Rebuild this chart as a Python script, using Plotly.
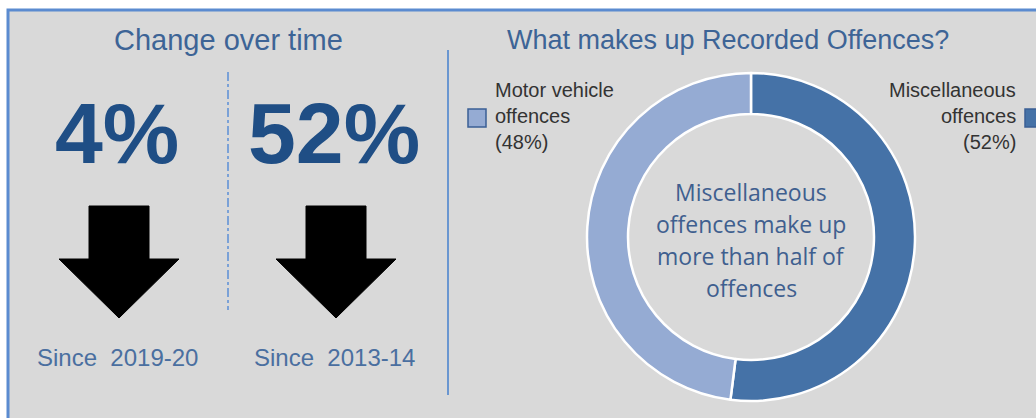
import plotly.graph_objects as go

# Headline change figures
periods = ["Since  2019-20", "Since  2013-14"]
change_pct = [4, 52]

# Composition of recorded offences
categories = ["Motor vehicle offences", "Miscellaneous offences"]
shares = [48, 52]

W, H = 1036, 418
BG = "#d9d9d9"
BORDER = "#5b8bd0"
TITLE_BLUE = "#3d6496"
NUM_BLUE = "#1f4e85"
LIGHT = "#95abd3"
DARK = "#4572a7"

fig = go.Figure()

# Donut: miscellaneous first so it runs clockwise from 12 o'clock
cx, cy, r = 751, 237, 164
fig.add_trace(go.Pie(
    labels=[categories[1], categories[0]],
    values=[shares[1], shares[0]],
    marker=dict(colors=[DARK, LIGHT], line=dict(color="white", width=2.5)),
    hole=0.75,
    sort=False,
    direction="clockwise",
    rotation=0,
    textinfo="none",
    hoverinfo="label+percent",
    showlegend=False,
    domain=dict(x=[(cx - r) / W, (cx + r) / W], y=[1 - (cy + r) / H, 1 - (cy - r) / H]),
))

shapes = [
    # panel
    dict(type="rect", xref="x", yref="y", x0=8, y0=10, x1=W + 10, y1=H + 10,
         fillcolor=BG, line=dict(color=BORDER, width=3), layer="below"),
    # column divider (dash-dot)
    dict(type="line", xref="x", yref="y", x0=228, x1=228, y0=72, y1=310,
         line=dict(color="#5b8fd6", width=1.5, dash="dashdot")),
    # section divider
    dict(type="line", xref="x", yref="y", x0=448, x1=448, y0=50, y1=395,
         line=dict(color="#6a96d0", width=2)),
]

annotations = [
    dict(x=228, y=40, text="Change over time", font=dict(family="Liberation Sans", size=29, color=TITLE_BLUE)),
    dict(x=728, y=40, text="What makes up Recorded Offences?", font=dict(family="Liberation Sans", size=27, color=TITLE_BLUE)),
]

# Left panel columns: big number, down arrow, period label
col_x = [117, 334]
for x, pct, label in zip(col_x, change_pct, periods):
    annotations.append(dict(x=x, y=133, text=f"<b>{pct}%</b>",
                            font=dict(family="Liberation Sans", size=86, color=NUM_BLUE)))
    annotations.append(dict(x=x, y=357, text=label,
                            font=dict(family="Liberation Sans", size=24, color="#4a6fa0")))
    ax = x + 2
    path = (f"M {ax-30} 206 L {ax+30} 206 L {ax+30} 259 L {ax+60} 259 "
            f"L {ax} 318 L {ax-60} 259 L {ax-30} 259 Z")
    shapes.append(dict(type="path", xref="x", yref="y", path=path,
                       fillcolor="black", line=dict(color="black", width=1)))

# Donut legend labels
leg_font = dict(family="Liberation Sans", size=20, color="#333333")
line_y = [90, 116, 142]
motor_lines = ["Motor vehicle", "offences", f"({shares[0]}%)"]
misc_lines = ["Miscellaneous", "offences", f"({shares[1]}%)"]
for y, t in zip(line_y, motor_lines):
    annotations.append(dict(x=493, y=y, text=t, xanchor="left", font=leg_font))
for y, t in zip(line_y, misc_lines):
    annotations.append(dict(x=1018, y=y, text=t, xanchor="right", font=leg_font))
shapes.append(dict(type="rect", xref="x", yref="y", x0=468, x1=486, y0=109, y1=127,
                   fillcolor=LIGHT, line=dict(color="#3a5f95", width=1.5)))
shapes.append(dict(type="rect", xref="x", yref="y", x0=1025, x1=1043, y0=109, y1=127,
                   fillcolor=DARK, line=dict(color="#3a5f95", width=1.5)))

# Centre message
centre_lines = ["Miscellaneous", "offences make up", "more than half of", "offences"]
for y, t in zip([192, 224, 256, 288], centre_lines):
    annotations.append(dict(x=cx, y=y, text=t,
                            font=dict(family="Open Sans", size=23, color="#3f5f8f")))

for a in annotations:
    a.setdefault("xref", "x")
    a.setdefault("yref", "y")
    a.setdefault("showarrow", False)
    a.setdefault("yanchor", "middle")
    a.setdefault("xanchor", "center")

fig.update_layout(
    width=W, height=H,
    margin=dict(l=0, r=0, t=0, b=0),
    paper_bgcolor="white",
    plot_bgcolor="rgba(0,0,0,0)",
    xaxis=dict(range=[0, W], visible=False, fixedrange=True),
    yaxis=dict(range=[H, 0], visible=False, fixedrange=True),
    shapes=shapes,
    annotations=annotations,
    showlegend=False,
)

fig.write_html("out.html", config={"displayModeBar": False})
